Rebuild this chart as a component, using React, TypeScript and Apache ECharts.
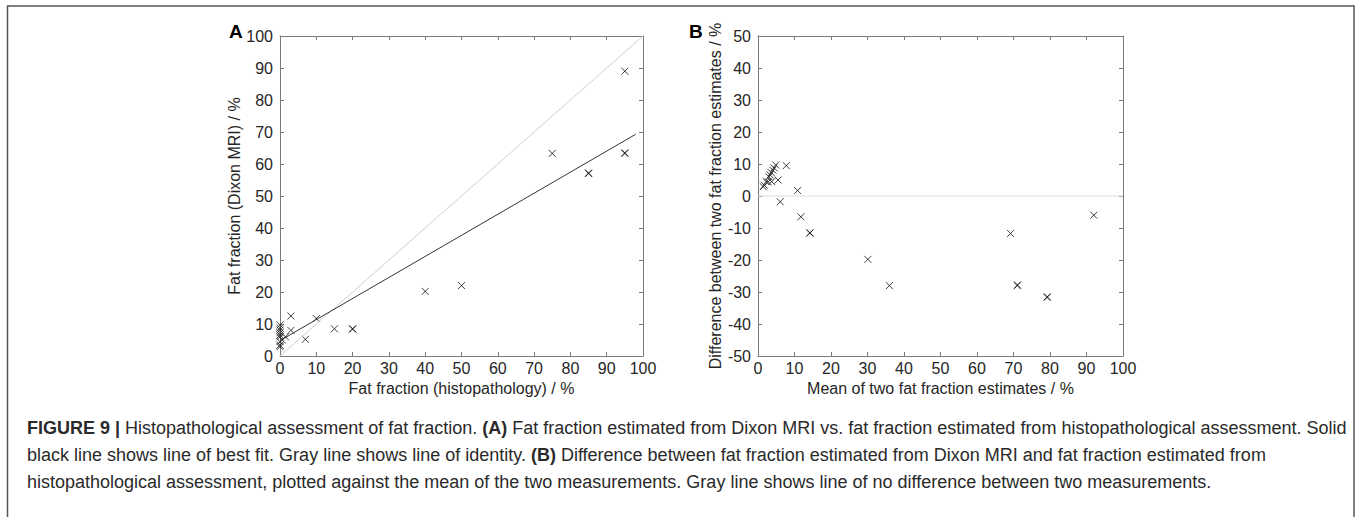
import React, { useEffect, useRef } from "react";
import * as echarts from "echarts";

// Panel A: histopathology vs Dixon MRI fat fraction (%)
const histoFF = [95, 75, 85, 85, 95, 95, 50, 40, 20, 20, 15, 10, 7, 3, 3, 1.5, 0.6, 0, 0, 0, 0, 0, 0, 0, 0, 0];
const dixonFF = [89, 63.3, 57, 57.2, 63.5, 63.3, 22, 20.2, 8.5, 8.4, 8.5, 11.7, 5.2, 12.5, 8, 6, 5, 9.7, 8.8, 8.1, 7.3, 6.6, 6, 4.5, 3.4, 2.9];
// Panel B: Bland-Altman (mean vs difference)
const meanFF = [92, 69.2, 71, 71.1, 79.25, 79.2, 36, 30.1, 14.25, 14.2, 11.75, 10.85, 6.1, 7.75, 5.5, 3.75, 2.8, 4.85, 4.4, 4.05, 3.65, 3.3, 3, 2.25, 1.7, 1.45];
const diffFF = [-6, -11.7, -28, -27.8, -31.5, -31.7, -28, -19.8, -11.5, -11.6, -6.5, 1.7, -1.8, 9.5, 5, 4.5, 4.4, 9.7, 8.8, 8.1, 7.3, 6.6, 6, 4.5, 3.4, 2.9];
// Reference lines
const identityLine = [[0, 0], [100, 100]];
const bestFitLine = [[0, 4.8], [98, 69.3]];
const zeroLine = [[0, 0], [100, 0]];
const ticksA = [0, 100, 10];
const ticksB = [-50, 50, 10];

const captionLines = [
  "{b|FIGURE 9 |} Histopathological assessment of fat fraction. {b|(A)} Fat fraction estimated from Dixon MRI vs. fat fraction estimated from histopathological assessment. Solid",
  "black line shows line of best fit. Gray line shows line of identity. {b|(B)} Difference between fat fraction estimated from Dixon MRI and fat fraction estimated from",
  "histopathological assessment, plotted against the mean of the two measurements. Gray line shows line of no difference between two measurements.",
];

const FONT = "'Liberation Sans', Arial, Helvetica, sans-serif";
const AXIS_COLOR = "#7a7a7a";
const LABEL_COLOR = "#262626";
const CAP_COLOR = "#2a2a2a";
const CROSS = "path://M0,0L10,10M10,0L0,10";

function axis(kind: "x" | "y", grid: number, range: number[], primary: boolean, name?: string, gap?: number) {
  const position = kind === "x" ? (primary ? "bottom" : "top") : primary ? "left" : "right";
  return {
    type: "value",
    gridIndex: grid,
    position,
    min: range[0],
    max: range[1],
    interval: range[2],
    axisLine: { show: true, onZero: false, lineStyle: { color: AXIS_COLOR, width: 1 } },
    axisTick: { show: true, inside: true, length: 4, lineStyle: { color: AXIS_COLOR, width: 1 } },
    axisLabel: {
      show: primary,
      color: LABEL_COLOR,
      fontSize: 16,
      fontFamily: FONT,
      margin: kind === "x" ? 4 : 7,
    },
    splitLine: { show: false },
    name: primary ? name : undefined,
    nameLocation: "middle",
    nameGap: gap,
    nameTextStyle: { color: LABEL_COLOR, fontSize: 16, fontFamily: FONT },
  };
}

export default function App() {
  const ref = useRef<HTMLDivElement>(null);
  useEffect(() => {
    document.body.style.margin = "0";
    const chart = echarts.init(ref.current!, null, { renderer: "svg" });
    const scatterStyle = { color: "none", borderColor: "#111", borderWidth: 1 };
    const pairA = histoFF.map((h, i) => [h, dixonFF[i]]);
    const pairB = meanFF.map((m, i) => [m, diffFF[i]]);
    const capSize = 18;
    const capStyle = { fontSize: capSize, fontFamily: FONT, fill: CAP_COLOR };
    const rich = { b: { fontWeight: "bold", fontSize: capSize, fontFamily: FONT, fill: CAP_COLOR } };
    chart.setOption({
      animation: false,
      backgroundColor: "#fff",
      grid: [
        { left: 280, top: 36, width: 363, height: 320 },
        { left: 758, top: 36, width: 365, height: 320 },
      ],
      xAxis: [
        axis("x", 0, ticksA, true, "Fat fraction (histopathology) / %", 19),
        axis("x", 0, ticksA, false),
        axis("x", 1, ticksA, true, "Mean of two fat fraction estimates / %", 19),
        axis("x", 1, ticksA, false),
      ],
      yAxis: [
        axis("y", 0, ticksA, true, "Fat fraction (Dixon MRI) / %", 38),
        axis("y", 0, ticksA, false),
        axis("y", 1, ticksB, true, "Difference between two fat fraction estimates / %", 33),
        axis("y", 1, ticksB, false),
      ],
      series: [
        {
          type: "line", xAxisIndex: 0, yAxisIndex: 0, data: identityLine, showSymbol: false,
          lineStyle: { color: "#cfcfcf", width: 1 }, silent: true,
        },
        {
          type: "line", xAxisIndex: 0, yAxisIndex: 0, data: bestFitLine, showSymbol: false,
          lineStyle: { color: "#333", width: 1 }, silent: true,
        },
        {
          type: "scatter", xAxisIndex: 0, yAxisIndex: 0, data: pairA, symbol: CROSS, symbolSize: 7,
          itemStyle: scatterStyle,
        },
        {
          type: "line", xAxisIndex: 2, yAxisIndex: 2, data: zeroLine, showSymbol: false,
          lineStyle: { color: "#dadada", width: 1 }, silent: true,
        },
        {
          type: "scatter", xAxisIndex: 2, yAxisIndex: 2, data: pairB, symbol: CROSS, symbolSize: 7,
          itemStyle: scatterStyle,
        },
      ],
      graphic: [
        {
          type: "polyline",
          shape: { points: [[7.5, 517], [7.5, 6], [1354, 6], [1354, 517]] },
          style: { stroke: "#555", lineWidth: 1.5, fill: "none" },
        },
        { type: "text", x: 229, y: 22, style: { text: "A", fontSize: 19, fontWeight: "bold", fontFamily: FONT, fill: "#000" } },
        { type: "text", x: 689, y: 22, style: { text: "B", fontSize: 19, fontWeight: "bold", fontFamily: FONT, fill: "#000" } },
        ...captionLines.map((t, i) => ({
          type: "text",
          x: 27,
          y: 419 + i * 27,
          style: { ...capStyle, rich, text: t },
        })),
      ],
    });
    return () => chart.dispose();
  }, []);
  return <div ref={ref} style={{ width: 1357, height: 517 }} />;
}
